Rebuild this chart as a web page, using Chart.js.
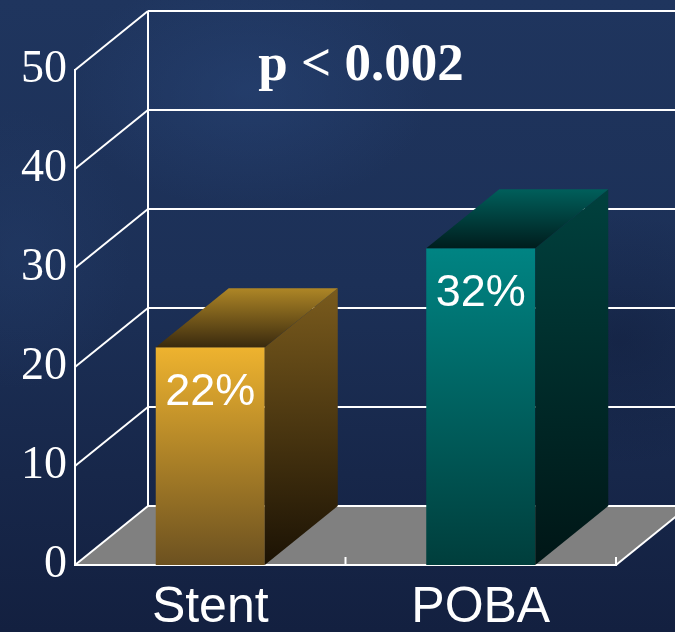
<!DOCTYPE html>
<html>
<head>
<meta charset="utf-8">
<title>Restenosis: Stent vs POBA</title>
<style>
  html, body { margin: 0; padding: 0; }
  body {
    width: 675px;
    height: 632px;
    overflow: hidden;
    background:
      radial-gradient(ellipse 260px 170px at 250px 90px, rgba(42, 72, 124, 0.45), rgba(42, 72, 124, 0) 70%),
      radial-gradient(ellipse 220px 180px at 620px 340px, rgba(12, 22, 48, 0.35), rgba(12, 22, 48, 0) 70%),
      radial-gradient(ellipse 160px 200px at 20px 250px, rgba(38, 64, 110, 0.35), rgba(38, 64, 110, 0) 70%),
      linear-gradient(180deg, #1f355e 0%, #1c3057 45%, #17274a 75%, #132040 100%);
  }
  canvas { display: block; }
</style>
<script src="https://cdn.jsdelivr.net/npm/chart.js@4/dist/chart.umd.min.js"></script>
</head>
<body>
<canvas id="chart" width="675" height="632"></canvas>
<script>
const categories = ['Stent', 'POBA'];
const restenosisRates = [22, 32];
const yTicks = [0, 10, 20, 30, 40, 50];
const pValueLabel = 'p < 0.002';

// depth of the fake 3D box (pixels)
const DEPTH_X = 73;
const DEPTH_Y = -59;
const LINE_COLOR = '#ffffff';

const palette = [
  {
    front: ['#eeb32f', '#6c5120'],
    side: ['#7a5b1d', '#1b1204'],
    top: ['#3a2a0e', '#ae8626'],
  },
  {
    front: ['#008483', '#003e3c'],
    side: ['#00413e', '#001616'],
    top: ['#001d1d', '#005f5b'],
  },
];

function verticalGradient(ctx, top, bottom, colours) {
  const gradient = ctx.createLinearGradient(0, top, 0, bottom);
  gradient.addColorStop(0, colours[0]);
  gradient.addColorStop(1, colours[1]);
  return gradient;
}

function frontColour(context) {
  const index = context.dataIndex || 0;
  const { chart } = context;
  const colours = palette[index];
  if (!chart.chartArea || context.type !== 'data') return colours.front[0];
  const yScale = chart.scales.y;
  const top = yScale.getPixelForValue(restenosisRates[index]);
  const bottom = yScale.getPixelForValue(0);
  return verticalGradient(chart.ctx, top, bottom, colours.front);
}

function line(ctx, x1, y1, x2, y2) {
  ctx.beginPath();
  ctx.moveTo(x1, y1);
  ctx.lineTo(x2, y2);
  ctx.stroke();
}

const boxPlugin = {
  id: 'box3d',
  beforeDraw(chart) {
    const { ctx, chartArea, scales } = chart;
    const { left, right } = chartArea;
    const y0 = scales.y.getPixelForValue(0);

    ctx.save();
    // floor
    ctx.fillStyle = '#808080';
    ctx.beginPath();
    ctx.moveTo(left, y0);
    ctx.lineTo(right, y0);
    ctx.lineTo(right + DEPTH_X, y0 + DEPTH_Y);
    ctx.lineTo(left + DEPTH_X, y0 + DEPTH_Y);
    ctx.closePath();
    ctx.fill();

    ctx.strokeStyle = LINE_COLOR;
    ctx.lineWidth = 2;
    ctx.lineCap = 'butt';

    // back wall grid and the diagonals from the front axis
    yTicks.forEach((value) => {
      const yf = scales.y.getPixelForValue(value);
      line(ctx, left + DEPTH_X, yf + DEPTH_Y, chart.width + 5, yf + DEPTH_Y);
      line(ctx, left, yf, left + DEPTH_X, yf + DEPTH_Y);
    });
    const yTop = scales.y.getPixelForValue(yTicks[yTicks.length - 1]);
    line(ctx, left + DEPTH_X, yTop + DEPTH_Y, left + DEPTH_X, y0 + DEPTH_Y);

    // right edge of the floor
    line(ctx, right, y0, right + DEPTH_X, y0 + DEPTH_Y);

    // category separators
    for (let i = 0; i <= categories.length; i++) {
      const bx = scales.x.getPixelForValue(i - 0.5);
      line(ctx, bx, y0, bx, y0 - 8);
    }
    ctx.restore();
  },
  afterDatasetsDraw(chart) {
    const { ctx, chartArea } = chart;
    const meta = chart.getDatasetMeta(0);

    ctx.save();
    meta.data.forEach((bar, index) => {
      const colours = palette[index];
      const half = bar.width / 2;
      const l = bar.x - half;
      const r = bar.x + half;
      const t = bar.y;
      const b = bar.base;

      // side face
      ctx.fillStyle = verticalGradient(ctx, t + DEPTH_Y, b, colours.side);
      ctx.beginPath();
      ctx.moveTo(r, t);
      ctx.lineTo(r + DEPTH_X, t + DEPTH_Y);
      ctx.lineTo(r + DEPTH_X, b + DEPTH_Y);
      ctx.lineTo(r, b);
      ctx.closePath();
      ctx.fill();

      // top face
      ctx.fillStyle = verticalGradient(ctx, t, t + DEPTH_Y, colours.top);
      ctx.beginPath();
      ctx.moveTo(l, t);
      ctx.lineTo(l + DEPTH_X, t + DEPTH_Y);
      ctx.lineTo(r + DEPTH_X, t + DEPTH_Y);
      ctx.lineTo(r, t);
      ctx.closePath();
      ctx.fill();

      // value label
      ctx.fillStyle = '#ffffff';
      ctx.font = '45px "Liberation Sans", Arial, sans-serif';
      ctx.textAlign = 'center';
      ctx.textBaseline = 'middle';
      ctx.fillText(`${restenosisRates[index]}%`, bar.x, t + 45);
    });

    // significance label
    ctx.fillStyle = '#ffffff';
    ctx.font = 'bold 53px "Liberation Serif", "Times New Roman", serif';
    ctx.textAlign = 'center';
    ctx.textBaseline = 'alphabetic';
    ctx.fillText(pValueLabel, chartArea.left + 286, 80);
    ctx.restore();
  },
};

const chart = new Chart(document.getElementById('chart'), {
  type: 'bar',
  data: {
    labels: categories,
    datasets: [
      {
        data: restenosisRates,
        backgroundColor: frontColour,
        borderWidth: 0,
        categoryPercentage: 1,
        barPercentage: 0.403,
      },
    ],
  },
  options: {
    responsive: false,
    animation: false,
    layout: {
      autoPadding: false,
      padding: { top: 70, right: 59, bottom: 0, left: 0 },
    },
    plugins: {
      legend: { display: false },
      tooltip: { enabled: false },
      title: { display: false },
    },
    scales: {
      x: {
        grid: { display: false, drawTicks: false },
        border: { display: true, color: LINE_COLOR, width: 2 },
        ticks: {
          color: '#ffffff',
          padding: 18,
          font: { family: '"Liberation Sans", Arial, sans-serif', size: 50, lineHeight: 1 },
        },
        afterFit(scale) {
          scale.height = 67;
        },
      },
      y: {
        min: 0,
        max: 50,
        grid: { display: false, drawTicks: false },
        border: { display: true, color: LINE_COLOR, width: 2 },
        afterBuildTicks(axis) {
          axis.ticks = yTicks.map((value) => ({ value }));
        },
        ticks: {
          color: '#ffffff',
          padding: 8,
          font: { family: '"Liberation Serif", "Times New Roman", serif', size: 46, lineHeight: 1 },
        },
        afterFit(scale) {
          scale.width = 75;
        },
      },
    },
  },
  plugins: [boxPlugin],
});
</script>
</body>
</html>
